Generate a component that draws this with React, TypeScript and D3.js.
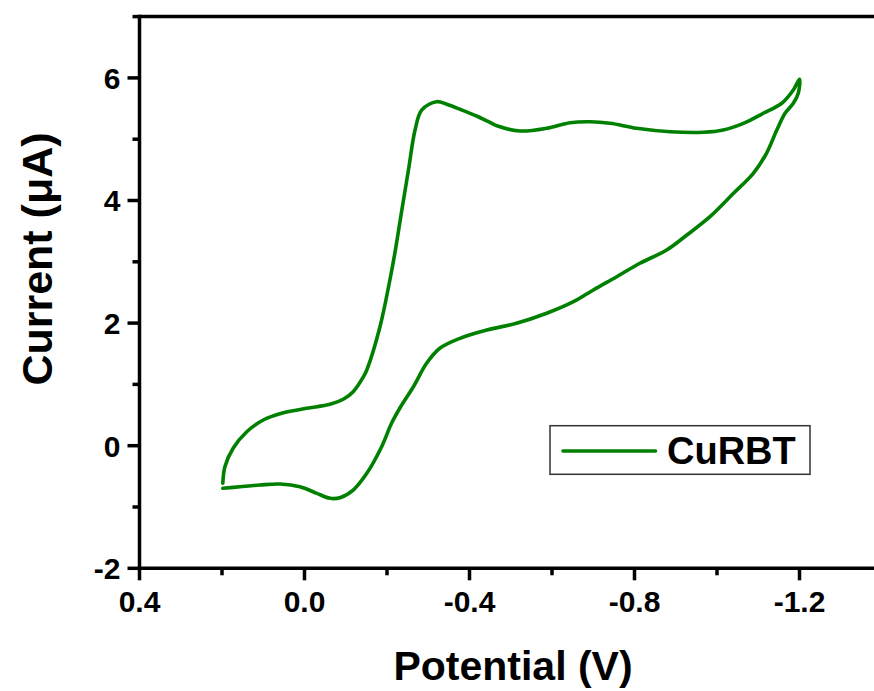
import React from "react";
import * as d3 from "d3";

// Cyclic voltammogram of CuRBT: cathodic sweep 0.2 V → -1.2 V, then back.
const forwardPotential = [
  0.198, 0.193, 0.173, 0.14, 0.1, 0.051, -0.005, -0.062, -0.094, -0.118, -0.143, -0.151,
  -0.183, -0.207, -0.219, -0.236, -0.252, -0.268, -0.284, -0.32, -0.345, -0.38, -0.42,
  -0.445, -0.47, -0.522, -0.587, -0.644, -0.692, -0.741, -0.805, -0.886, -0.967, -1.015,
  -1.064, -1.112, -1.157, -1.185, -1.2,
];
const forwardCurrent = [
  -0.613, -0.343, -0.042, 0.228, 0.419, 0.538, 0.61, 0.675, 0.757, 0.881, 1.126, 1.235,
  1.941, 2.703, 3.139, 3.845, 4.498, 5.15, 5.476, 5.612, 5.57, 5.48, 5.37, 5.29, 5.21,
  5.134, 5.178, 5.269, 5.285, 5.259, 5.178, 5.122, 5.113, 5.15, 5.259, 5.423, 5.586, 5.803,
  5.977,
];
const reversePotential = [
  -1.197, -1.185, -1.165, -1.145, -1.12, -1.088, -1.04, -0.983, -0.927, -0.878, -0.813,
  -0.757, -0.7, -0.652, -0.587, -0.514, -0.442, -0.377, -0.328, -0.296, -0.264, -0.232,
  -0.211, -0.187, -0.151, -0.118, -0.086, -0.062, -0.03, 0.011, 0.059, 0.108, 0.156, 0.198,
];
const reverseCurrent = [
  5.749, 5.586, 5.423, 5.15, 4.77, 4.444, 4.117, 3.736, 3.437, 3.192, 2.976, 2.757, 2.54,
  2.349, 2.16, 1.997, 1.887, 1.752, 1.589, 1.344, 0.962, 0.623, 0.365, -0.016, -0.45,
  -0.723, -0.848, -0.858, -0.777, -0.669, -0.625, -0.641, -0.669, -0.695,
];

const xMajorTicks = [0.4, 0.0, -0.4, -0.8, -1.2];
const xMinorTicks = [0.2, -0.2, -0.6, -1.0];
const yMajorTicks = [-2, 0, 2, 4, 6];
const yMinorTicks = [-1, 1, 3, 5, 7];
const seriesName = "CuRBT";

const W = 874;
const H = 691;
const FONT = "'Liberation Sans', Arial, Helvetica, sans-serif";
const GREEN = "#008000";

export default function App() {
  const left = 139.5;
  const top = 16.6;
  const bottom = 568.3;
  const right = 882;

  const x = d3.scaleLinear().domain([0.4, -1.4]).range([left, right]);
  const y = d3.scaleLinear().domain([-2, 7]).range([bottom, top]);

  const points: [number, number][] = [
    ...forwardPotential.map((p, i) => [p, forwardCurrent[i]] as [number, number]),
    ...reversePotential.map((p, i) => [p, reverseCurrent[i]] as [number, number]),
  ];
  const line = d3
    .line<[number, number]>()
    .x((d) => x(d[0]))
    .y((d) => y(d[1]))
    .curve(d3.curveCatmullRom.alpha(0.5));

  const axisW = 3.5;
  const major = 12;
  const minor = 7;
  // plain hyphen for negative values
  const fmt = (v: number) => d3.format(".1f")(v).replace("\u2212", "-");

  return (
    <svg
      width={W}
      height={H}
      style={{ position: "absolute", left: 0, top: 0, background: "#fff" }}
      fontFamily={FONT}
    >
      <rect x={0} y={0} width={W} height={H} fill="#fff" />
      <path d={line(points) ?? ""} fill="none" stroke={GREEN} strokeWidth={3.6} strokeLinejoin="round" strokeLinecap="round" />

      {/* frame */}
      <g stroke="#000" strokeWidth={axisW} fill="none">
        <line x1={left} x2={right} y1={top} y2={top} />
        <line x1={left} x2={right} y1={bottom} y2={bottom} />
        <line x1={left} x2={left} y1={top - axisW / 2} y2={bottom + axisW / 2} />
        <line x1={right} x2={right} y1={top} y2={bottom} />
      </g>

      {/* y axis ticks */}
      <g stroke="#000" strokeWidth={axisW}>
        {yMajorTicks.map((t) => (
          <line key={"ym" + t} x1={left - major} x2={left} y1={y(t)} y2={y(t)} />
        ))}
        {yMinorTicks.map((t) => (
          <line key={"yn" + t} x1={left - minor} x2={left} y1={y(t)} y2={y(t)} />
        ))}
      </g>
      <g fontSize={30} fontWeight="bold" textAnchor="end" fill="#000">
        {yMajorTicks.map((t) => (
          <text key={"yl" + t} x={left - 19} y={y(t)} dy="0.36em">
            {String(t)}
          </text>
        ))}
      </g>

      {/* x axis ticks */}
      <g stroke="#000" strokeWidth={axisW}>
        {xMajorTicks.map((t) => (
          <line key={"xm" + t} x1={x(t)} x2={x(t)} y1={bottom} y2={bottom + major} />
        ))}
        {xMinorTicks.map((t) => (
          <line key={"xn" + t} x1={x(t)} x2={x(t)} y1={bottom} y2={bottom + minor} />
        ))}
      </g>
      <g fontSize={30} fontWeight="bold" textAnchor="middle" fill="#000">
        {xMajorTicks.map((t) => (
          <text key={"xl" + t} x={x(t)} y={612}>
            {fmt(t)}
          </text>
        ))}
      </g>

      {/* axis titles */}
      <text x={513} y={680} fontSize={41} fontWeight="bold" textAnchor="middle" fill="#000">
        Potential (V)
      </text>
      <text
        transform={`translate(52, 259) rotate(-90)`}
        fontSize={43}
        fontWeight="bold"
        textAnchor="middle"
        fill="#000"
      >
        Current (μA)
      </text>

      {/* legend */}
      <rect x={550} y={425.7} width={260} height={48.6} fill="#fff" stroke="#333" strokeWidth={1.5} />
      <line x1={563} x2={655.5} y1={451} y2={451} stroke={GREEN} strokeWidth={3.6} strokeLinecap="round" />
      <text x={667} y={464} fontSize={38} fontWeight="bold" fill="#000">
        {seriesName}
      </text>
    </svg>
  );
}
